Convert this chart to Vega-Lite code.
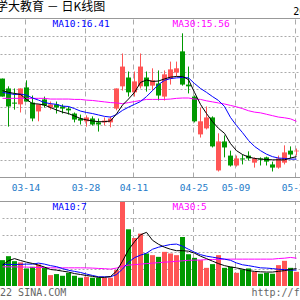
{
  "$schema": "https://vega.github.io/schema/vega-lite/v6.json",
  "width": 300,
  "height": 300,
  "autosize": "none",
  "padding": 0,
  "background": "#ffffff",
  "data": {"values": [
    {"d":"03-08","o":16.80,"h":16.80,"l":16.29,"c":16.29,"v":3.06,"m5":16.46,"m10":16.41,"m30":16.24,"vm5":2.47,"vm10":2.55,"vm30":2.27},
    {"d":"03-09","o":16.52,"h":16.58,"l":15.44,"c":16.01,"v":3.53,"m5":16.41,"m10":16.38,"m30":16.24,"vm5":3.00,"vm10":2.55,"vm30":2.27},
    {"d":"03-10","o":16.12,"h":16.52,"l":15.92,"c":16.09,"v":2.94,"m5":16.38,"m10":16.35,"m30":16.24,"vm5":3.24,"vm10":2.55,"vm30":2.26},
    {"d":"03-11","o":16.07,"h":16.52,"l":15.84,"c":16.52,"v":2.79,"m5":16.35,"m10":16.36,"m30":16.24,"vm5":3.02,"vm10":2.56,"vm30":2.25},
    {"d":"03-14","o":16.55,"h":16.75,"l":16.15,"c":16.15,"v":2.08,"m5":16.21,"m10":16.33,"m30":16.24,"vm5":2.82,"vm10":2.59,"vm30":2.24},
    {"d":"03-15","o":16.12,"h":16.32,"l":15.59,"c":15.67,"v":2.27,"m5":16.09,"m10":16.25,"m30":16.24,"vm5":2.67,"vm10":2.59,"vm30":2.21},
    {"d":"03-16","o":15.87,"h":16.07,"l":15.59,"c":16.07,"v":2.55,"m5":16.08,"m10":16.19,"m30":16.24,"vm5":2.47,"vm10":2.71,"vm30":2.19},
    {"d":"03-17","o":16.21,"h":16.29,"l":15.98,"c":16.04,"v":2.15,"m5":16.05,"m10":16.12,"m30":16.24,"vm5":2.24,"vm10":2.59,"vm30":2.18},
    {"d":"03-18","o":15.98,"h":16.15,"l":15.92,"c":16.07,"v":1.29,"m5":15.98,"m10":16.09,"m30":16.22,"vm5":1.95,"vm10":2.41,"vm30":2.15},
    {"d":"03-21","o":16.07,"h":16.15,"l":15.81,"c":15.98,"v":1.41,"m5":15.91,"m10":16.07,"m30":16.22,"vm5":1.88,"vm10":2.29,"vm30":2.15},
    {"d":"03-22","o":16.01,"h":16.07,"l":15.81,"c":15.95,"v":1.21,"m5":15.85,"m10":16.02,"m30":16.22,"vm5":1.76,"vm10":2.06,"vm30":2.15},
    {"d":"03-23","o":15.95,"h":16.01,"l":15.78,"c":15.90,"v":1.56,"m5":15.81,"m10":16.01,"m30":16.22,"vm5":1.65,"vm10":1.86,"vm30":2.15},
    {"d":"03-24","o":15.81,"h":15.84,"l":15.56,"c":15.64,"v":1.21,"m5":15.74,"m10":15.95,"m30":16.21,"vm5":1.47,"vm10":1.73,"vm30":2.15},
    {"d":"03-25","o":15.67,"h":15.78,"l":15.50,"c":15.61,"v":0.98,"m5":15.67,"m10":15.88,"m30":16.21,"vm5":1.36,"vm10":1.60,"vm30":2.15},
    {"d":"03-28","o":15.59,"h":15.76,"l":15.44,"c":15.70,"v":1.09,"m5":15.63,"m10":15.84,"m30":16.19,"vm5":1.24,"vm10":1.41,"vm30":2.14},
    {"d":"03-29","o":15.67,"h":15.73,"l":15.47,"c":15.50,"v":0.98,"m5":15.60,"m10":15.81,"m30":16.18,"vm5":1.14,"vm10":1.25,"vm30":2.12},
    {"d":"03-30","o":15.56,"h":15.67,"l":15.30,"c":15.50,"v":0.98,"m5":15.58,"m10":15.77,"m30":16.16,"vm5":1.02,"vm10":1.09,"vm30":2.08},
    {"d":"03-31","o":15.56,"h":15.70,"l":15.47,"c":15.61,"v":0.98,"m5":15.58,"m10":15.73,"m30":16.14,"vm5":1.02,"vm10":1.09,"vm30":2.05},
    {"d":"04-01","o":15.56,"h":15.73,"l":15.42,"c":15.67,"v":0.98,"m5":15.60,"m10":15.71,"m30":16.12,"vm5":1.12,"vm10":1.09,"vm30":2.00},
    {"d":"04-06","o":15.95,"h":16.52,"l":15.90,"c":16.52,"v":1.88,"m5":15.80,"m10":15.78,"m30":16.11,"vm5":1.76,"vm10":1.35,"vm30":2.12},
    {"d":"04-07","o":16.58,"h":17.51,"l":16.46,"c":17.14,"v":10.0,"m5":16.05,"m10":15.90,"m30":16.09,"vm5":2.94,"vm10":2.00,"vm30":2.35},
    {"d":"04-08","o":16.83,"h":17.00,"l":16.29,"c":16.41,"v":6.71,"m5":16.22,"m10":15.99,"m30":16.12,"vm5":4.29,"vm10":2.82,"vm30":2.47},
    {"d":"04-11","o":16.41,"h":17.00,"l":16.29,"c":16.72,"v":5.68,"m5":16.41,"m10":16.07,"m30":16.15,"vm5":5.24,"vm10":3.35,"vm30":2.53},
    {"d":"04-12","o":16.58,"h":17.51,"l":16.52,"c":17.14,"v":6.20,"m5":16.69,"m10":16.15,"m30":16.18,"vm5":6.06,"vm10":3.65,"vm30":2.59},
    {"d":"04-13","o":16.83,"h":17.00,"l":16.43,"c":16.58,"v":3.85,"m5":16.76,"m10":16.29,"m30":16.21,"vm5":6.35,"vm10":3.88,"vm30":2.65},
    {"d":"04-14","o":16.60,"h":17.09,"l":16.46,"c":16.75,"v":3.65,"m5":16.72,"m10":16.46,"m30":16.21,"vm5":5.41,"vm10":4.35,"vm30":2.71},
    {"d":"04-15","o":16.66,"h":17.03,"l":16.18,"c":16.32,"v":3.45,"m5":16.73,"m10":16.63,"m30":16.21,"vm5":4.94,"vm10":4.59,"vm30":2.76},
    {"d":"04-18","o":16.29,"h":17.03,"l":16.18,"c":16.92,"v":4.04,"m5":16.79,"m10":16.75,"m30":16.21,"vm5":4.59,"vm10":4.76,"vm30":2.82},
    {"d":"04-19","o":16.80,"h":17.28,"l":16.63,"c":17.06,"v":3.85,"m5":16.84,"m10":16.80,"m30":16.22,"vm5":4.35,"vm10":4.91,"vm30":2.86},
    {"d":"04-20","o":16.97,"h":17.28,"l":16.86,"c":17.09,"v":3.65,"m5":16.86,"m10":16.82,"m30":16.24,"vm5":4.18,"vm10":4.96,"vm30":2.92},
    {"d":"04-21","o":17.57,"h":18.08,"l":16.60,"c":16.63,"v":5.80,"m5":16.86,"m10":16.83,"m30":16.25,"vm5":4.18,"vm10":4.71,"vm30":2.98},
    {"d":"04-22","o":16.63,"h":17.14,"l":16.38,"c":16.58,"v":3.76,"m5":16.77,"m10":16.82,"m30":16.25,"vm5":4.12,"vm10":4.35,"vm30":3.04},
    {"d":"04-25","o":16.29,"h":16.32,"l":15.56,"c":15.59,"v":3.33,"m5":16.41,"m10":16.66,"m30":16.22,"vm5":3.88,"vm10":4.00,"vm30":3.06},
    {"d":"04-26","o":15.22,"h":15.98,"l":15.13,"c":15.59,"v":3.06,"m5":16.07,"m10":16.52,"m30":16.21,"vm5":3.53,"vm10":3.71,"vm30":3.08},
    {"d":"04-27","o":15.39,"h":16.01,"l":15.36,"c":15.70,"v":2.15,"m5":15.81,"m10":16.41,"m30":16.17,"vm5":3.24,"vm10":3.53,"vm30":3.12},
    {"d":"04-28","o":15.70,"h":15.73,"l":14.85,"c":14.88,"v":2.59,"m5":15.58,"m10":16.29,"m30":16.14,"vm5":2.94,"vm10":3.41,"vm30":3.14},
    {"d":"04-29","o":14.20,"h":15.25,"l":14.17,"c":15.02,"v":3.65,"m5":15.39,"m10":16.18,"m30":16.11,"vm5":2.65,"vm10":3.29,"vm30":3.15},
    {"d":"05-05","o":15.02,"h":15.19,"l":14.57,"c":14.85,"v":2.15,"m5":15.25,"m10":16.01,"m30":16.08,"vm5":2.41,"vm10":3.18,"vm30":3.18},
    {"d":"05-06","o":14.62,"h":14.76,"l":14.31,"c":14.34,"v":2.27,"m5":14.96,"m10":15.70,"m30":16.04,"vm5":2.26,"vm10":3.04,"vm30":3.18},
    {"d":"05-09","o":14.34,"h":14.62,"l":14.31,"c":14.54,"v":1.56,"m5":14.76,"m10":15.47,"m30":16.00,"vm5":2.14,"vm10":2.73,"vm30":3.18},
    {"d":"05-10","o":14.54,"h":14.65,"l":14.37,"c":14.51,"v":1.96,"m5":14.65,"m10":15.27,"m30":15.95,"vm5":2.00,"vm10":2.51,"vm30":3.18},
    {"d":"05-11","o":14.62,"h":14.74,"l":14.48,"c":14.54,"v":2.08,"m5":14.58,"m10":15.05,"m30":15.89,"vm5":1.82,"vm10":2.41,"vm30":3.18},
    {"d":"05-12","o":14.42,"h":14.57,"l":14.28,"c":14.54,"v":1.68,"m5":14.54,"m10":14.88,"m30":15.85,"vm5":1.73,"vm10":2.28,"vm30":3.18},
    {"d":"05-13","o":14.54,"h":14.57,"l":14.34,"c":14.51,"v":1.45,"m5":14.52,"m10":14.76,"m30":15.83,"vm5":1.68,"vm10":2.15,"vm30":3.18},
    {"d":"05-16","o":14.57,"h":14.59,"l":14.34,"c":14.45,"v":1.56,"m5":14.51,"m10":14.66,"m30":15.79,"vm5":1.65,"vm10":2.12,"vm30":3.18},
    {"d":"05-17","o":14.37,"h":14.45,"l":14.17,"c":14.28,"v":1.45,"m5":14.50,"m10":14.59,"m30":15.75,"vm5":1.65,"vm10":2.06,"vm30":3.18},
    {"d":"05-18","o":14.28,"h":14.62,"l":14.25,"c":14.54,"v":2.47,"m5":14.50,"m10":14.55,"m30":15.71,"vm5":1.74,"vm10":1.98,"vm30":3.25},
    {"d":"05-19","o":14.42,"h":14.91,"l":14.37,"c":14.71,"v":2.98,"m5":14.50,"m10":14.54,"m30":15.69,"vm5":1.82,"vm10":1.94,"vm30":3.29},
    {"d":"05-20","o":14.76,"h":14.88,"l":14.54,"c":14.65,"v":2.15,"m5":14.55,"m10":14.52,"m30":15.66,"vm5":1.96,"vm10":1.88,"vm30":3.38},
    {"d":"05-23","o":14.74,"h":14.82,"l":14.62,"c":14.76,"v":1.68,"m5":14.59,"m10":14.52,"m30":15.59,"vm5":2.06,"vm10":1.88,"vm30":3.29}
  ]},
  "layer": [
    {
      "layer": [
        {
          "transform": [{"filter": {"field": "d", "oneOf": ["03-14","03-28","04-11","04-25","05-09","05-23"]}}],
          "mark": {"type": "rule", "color": "#aaaaaa", "strokeWidth": 1, "strokeDash": [5, 4], "xOffset": -1},
          "encoding": {
            "x": {"field": "d", "type": "ordinal",
              "scale": {"paddingInner": 0.16666667, "paddingOuter": 0.08333333, "align": 0},
              "axis": {"values": ["03-14","03-28","04-11","04-25","05-09","05-23"], "orient": "bottom", "offset": -118, "domain": false, "ticks": false, "grid": false, "labelPadding": 0, "title": null, "labelFont": "DejaVu Sans Mono", "labelFontSize": 9.5, "labelColor": "#1e7ac8", "labelAngle": 0, "bandPosition": 0, "labelOffset": -0.5, "labelOverlap": false, "labelBound": false}},
            "y": {"datum": 14, "type": "quantitative"},
            "y2": {"datum": 18.5}
          }
        },
        {
          "mark": {"type": "rule", "strokeWidth": 1},
          "encoding": {
            "x": {"field": "d", "type": "ordinal"},
            "y": {"field": "l", "type": "quantitative",
              "scale": {"domain": [14, 18.5], "range": [177.5, 18.5], "nice": false, "zero": false},
              "axis": {"grid": true, "values": [14.5, 15, 15.5, 16, 16.5, 17, 17.5, 18], "labels": false, "ticks": false, "domain": false, "title": null, "gridDash": [2, 2], "gridColor": "#aaaaaa", "gridWidth": 1}},
            "y2": {"field": "h"},
            "color": {"condition": {"test": "datum.c >= datum.o", "value": "#ff5555"}, "value": "#009900"}
          }
        },
        {
          "mark": {"type": "bar"},
          "encoding": {
            "x": {"field": "d", "type": "ordinal"},
            "y": {"field": "o", "type": "quantitative"},
            "y2": {"field": "c"},
            "color": {"condition": {"test": "datum.c >= datum.o", "value": "#ff5555"}, "value": "#009900"}
          }
        },
        {
          "mark": {"type": "line", "color": "#ff00ff", "strokeWidth": 1},
          "encoding": {"x": {"field": "d", "type": "ordinal"}, "y": {"field": "m30", "type": "quantitative"}}
        },
        {
          "mark": {"type": "line", "color": "#0000ff", "strokeWidth": 1},
          "encoding": {"x": {"field": "d", "type": "ordinal"}, "y": {"field": "m10", "type": "quantitative"}}
        },
        {
          "mark": {"type": "line", "color": "#000000", "strokeWidth": 1},
          "encoding": {"x": {"field": "d", "type": "ordinal"}, "y": {"field": "m5", "type": "quantitative"}}
        },
        {
          "data": {"values": [{}]},
          "mark": {"type": "rule", "color": "#999999", "strokeWidth": 1},
          "encoding": {"y": {"datum": 18.5, "type": "quantitative"}}
        },
        {
          "data": {"values": [{}]},
          "mark": {"type": "rule", "color": "#999999", "strokeWidth": 1},
          "encoding": {"y": {"datum": 14, "type": "quantitative"}}
        },
        {
          "data": {"values": [{}]},
          "mark": {"type": "text", "text": "学大教育  －  日K线图", "font": "Noto Sans CJK SC", "fontSize": 12, "align": "left", "baseline": "alphabetic", "dx": -6.5, "dy": -7.5, "color": "#000000"},
          "encoding": {"x": {"datum": "03-08", "type": "ordinal"}, "y": {"datum": 18.5, "type": "quantitative"}}
        },
        {
          "data": {"values": [{}]},
          "mark": {"type": "text", "text": "2022-05-24", "font": "DejaVu Sans Mono", "fontSize": 10, "align": "left", "baseline": "alphabetic", "dx": -3.2, "dy": -3.5, "color": "#000000"},
          "encoding": {"x": {"datum": "05-23", "type": "ordinal"}, "y": {"datum": 18.5, "type": "quantitative"}}
        },
        {
          "data": {"values": [{}]},
          "mark": {"type": "text", "text": "MA10:16.41", "font": "DejaVu Sans Mono", "fontSize": 9.5, "align": "left", "baseline": "alphabetic", "dx": 2, "dy": 8.3, "color": "#0000ff"},
          "encoding": {"x": {"datum": "03-18", "type": "ordinal"}, "y": {"datum": 18.5, "type": "quantitative"}}
        },
        {
          "data": {"values": [{}]},
          "mark": {"type": "text", "text": "MA30:15.56", "font": "DejaVu Sans Mono", "fontSize": 9.5, "align": "left", "baseline": "alphabetic", "dx": -4, "dy": 8.3, "color": "#ff00ff"},
          "encoding": {"x": {"datum": "04-20", "type": "ordinal"}, "y": {"datum": 18.5, "type": "quantitative"}}
        }
      ]
    },
    {
      "layer": [
        {
          "transform": [{"filter": {"field": "d", "oneOf": ["03-14","03-28","04-11","04-25","05-09","05-23"]}}],
          "mark": {"type": "rule", "color": "#aaaaaa", "strokeWidth": 1, "strokeDash": [5, 4], "xOffset": -1},
          "encoding": {
            "x": {"field": "d", "type": "ordinal"},
            "y": {"datum": 0, "type": "quantitative"},
            "y2": {"datum": 10}
          }
        },
        {
          "mark": {"type": "bar"},
          "encoding": {
            "x": {"field": "d", "type": "ordinal"},
            "y": {"field": "v", "type": "quantitative",
              "scale": {"domain": [0, 10], "range": [286, 201.5], "nice": false},
              "axis": {"grid": true, "values": [2, 4, 6, 8], "labels": false, "ticks": false, "domain": false, "title": null, "gridDash": [2, 2], "gridColor": "#aaaaaa", "gridWidth": 1}},
            "color": {"condition": {"test": "datum.c >= datum.o", "value": "#ff5555"}, "value": "#009900"}
          }
        },
        {
          "mark": {"type": "line", "color": "#ff00ff", "strokeWidth": 1},
          "encoding": {"x": {"field": "d", "type": "ordinal"}, "y": {"field": "vm30", "type": "quantitative"}}
        },
        {
          "mark": {"type": "line", "color": "#0000ff", "strokeWidth": 1},
          "encoding": {"x": {"field": "d", "type": "ordinal"}, "y": {"field": "vm10", "type": "quantitative"}}
        },
        {
          "mark": {"type": "line", "color": "#000000", "strokeWidth": 1},
          "encoding": {"x": {"field": "d", "type": "ordinal"}, "y": {"field": "vm5", "type": "quantitative"}}
        },
        {
          "data": {"values": [{}]},
          "mark": {"type": "rule", "color": "#999999", "strokeWidth": 1},
          "encoding": {"y": {"datum": 10, "type": "quantitative"}}
        },
        {
          "data": {"values": [{}]},
          "mark": {"type": "text", "text": "MA10:7", "font": "DejaVu Sans Mono", "fontSize": 9.5, "align": "left", "baseline": "alphabetic", "dx": 2, "dy": 8.5, "color": "#0000ff"},
          "encoding": {"x": {"datum": "03-18", "type": "ordinal"}, "y": {"datum": 10, "type": "quantitative"}}
        },
        {
          "data": {"values": [{}]},
          "mark": {"type": "text", "text": "MA30:5", "font": "DejaVu Sans Mono", "fontSize": 9.5, "align": "left", "baseline": "alphabetic", "dx": -4, "dy": 8.5, "color": "#ff00ff"},
          "encoding": {"x": {"datum": "04-20", "type": "ordinal"}, "y": {"datum": 10, "type": "quantitative"}}
        },
        {
          "data": {"values": [{}]},
          "mark": {"type": "text", "text": "©2022 SINA.COM", "font": "DejaVu Sans Mono", "fontSize": 10, "align": "left", "baseline": "alphabetic", "dx": -20.5, "dy": 10, "color": "#666666"},
          "encoding": {"x": {"datum": "03-08", "type": "ordinal"}, "y": {"datum": 0, "type": "quantitative"}}
        },
        {
          "data": {"values": [{}]},
          "mark": {"type": "text", "text": "http://finance.sina.com.cn", "font": "DejaVu Sans Mono", "fontSize": 10, "align": "left", "baseline": "alphabetic", "dx": 3, "dy": 10, "color": "#666666"},
          "encoding": {"x": {"datum": "05-11", "type": "ordinal"}, "y": {"datum": 0, "type": "quantitative"}}
        }
      ]
    }
  ],
  "resolve": {"scale": {"y": "independent"}, "axis": {"y": "independent"}},
  "config": {"view": {"stroke": null}}
}
